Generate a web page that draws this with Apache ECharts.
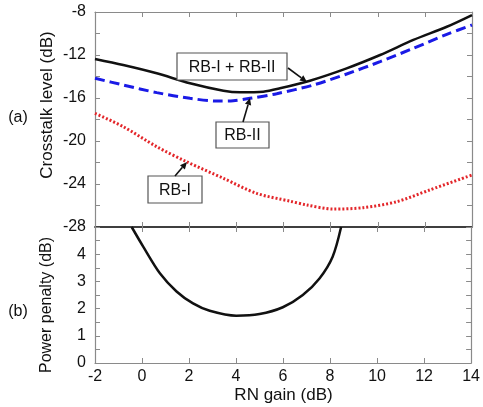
<!DOCTYPE html>
<html><head><meta charset="utf-8">
<script src="https://cdn.jsdelivr.net/npm/echarts@6/dist/echarts.min.js"></script>
<style>html,body{margin:0;padding:0;background:#fff}#c{width:483px;height:407px}</style>
</head><body><div id="c"></div>
<script>
// ---- data ----
const totalGain = [-2, -0.8, 0.62, 2.03, 3.45, 4.15, 5.14, 5.85, 7.12, 8.68, 10.1, 11.51, 12.93, 14];
const totalXT   = [-12.37, -12.93, -13.7, -14.63, -15.32, -15.47, -15.41, -15.1, -14.39, -13.24, -12.0, -10.6, -9.37, -8.28];
const rb2Gain   = [-2, -0.8, 0.62, 2.03, 3.16, 3.87, 4.58, 5.71, 7.27, 8.68, 10.1, 11.51, 12.93, 14];
const rb2XT     = [-14.17, -14.79, -15.5, -16.03, -16.28, -16.25, -16.03, -15.6, -14.79, -13.77, -12.62, -11.38, -10.08, -9.21];
const rb1Gain   = [-2, -0.8, 0.62, 1.89, 3.45, 4.86, 6.28, 6.98, 8.11, 9.39, 10.8, 12.2, 14];
const rb1XT     = [-17.43, -18.67, -20.53, -21.93, -23.47, -24.87, -25.6, -25.95, -26.33, -26.2, -25.65, -24.56, -23.16];
const ppGain    = [-0.44, 0.05, 0.76, 1.47, 2.17, 2.88, 4.01, 5.0, 5.99, 6.84, 7.55, 8.11, 8.47];
const ppVal     = [5.0, 4.28, 3.3, 2.63, 2.19, 1.92, 1.74, 1.8, 2.05, 2.5, 3.11, 3.91, 5.0];
const xTicks = [-2, 14, 2];
const topY = [-28, -8, 2];
const botY = [0, 5, 0.5];

const zip = (a, b) => a.map((v, i) => [v, b[i]]);
const FONT = '"Liberation Sans", Arial, sans-serif';
const AX = '#8a8a8a';

const L = 95, W = 377, T = 12, H1 = 215, H2 = 136;
function xAx(grid, pos, labels, dark) {
  return {
    type: 'value', gridIndex: grid, position: pos, min: xTicks[0], max: xTicks[1], interval: xTicks[2],
    axisLine: {show: true, onZero: false, lineStyle: {color: dark ? '#333' : AX, width: dark ? 1.5 : 1.2}},
    axisTick: {show: true, inside: true, length: 5, lineStyle: {color: AX}},
    axisLabel: {show: labels, color: '#111', fontSize: 16, fontFamily: FONT, margin: 6},
    splitLine: {show: false}
  };
}
function yAx(grid, pos, rng, labels, fmt) {
  return {
    type: 'value', gridIndex: grid, position: pos, min: rng[0], max: rng[1], interval: rng[2],
    axisLine: {show: true, onZero: false, lineStyle: {color: AX, width: 1.2}},
    axisTick: {show: true, inside: true, length: 5, lineStyle: {color: AX}},
    axisLabel: {show: labels, color: '#111', fontSize: 16, fontFamily: FONT, margin: 9, formatter: fmt,
      showMinLabel: true, showMaxLabel: true},
    splitLine: {show: false}
  };
}

const chart = echarts.init(document.getElementById('c'), null, {renderer: 'canvas'});

function arrow(x1, y1, x2, y2) {
  const a = Math.atan2(y2 - y1, x2 - x1), s = 7, w = 3.2;
  const bx = x2 - s * Math.cos(a), by = y2 - s * Math.sin(a);
  const px = -Math.sin(a) * w, py = Math.cos(a) * w;
  return [
    {type: 'line', shape: {x1, y1, x2: bx, y2: by}, style: {stroke: '#111', lineWidth: 1.6}, z: 100},
    {type: 'polygon', shape: {points: [[x2, y2], [bx + px, by + py], [bx - px, by - py]]}, style: {fill: '#111'}, z: 100}
  ];
}
function box(x, y, w, h, txt) {
  return [
    {type: 'rect', shape: {x, y, width: w, height: h}, style: {fill: '#fff', stroke: '#555', lineWidth: 1.2}, z: 100},
    {type: 'text', x: x + w / 2, y: y + h / 2 + 1, style: {text: txt, font: '16px ' + FONT, fill: '#111', align: 'center', verticalAlign: 'middle'}, z: 101}
  ];
}

chart.setOption({
  animation: false,
  backgroundColor: '#fff',
  grid: [
    {left: L, top: T, width: W, height: H1},
    {left: L, top: T + H1, width: W, height: H2}
  ],
  xAxis: [xAx(0, 'bottom', false, true), xAx(0, 'top', false), xAx(1, 'bottom', true), xAx(1, 'top', false, true)],
  yAxis: [
    yAx(0, 'left', topY, true, v => (Math.round(v) % 4 === 0 ? String(v) : '')),
    yAx(0, 'right', topY, false),
    yAx(1, 'left', botY, true, v => (Number.isInteger(v) && v < 5 ? String(v) : '')),
    yAx(1, 'right', botY, false)
  ],
  series: [
    {type: 'line', xAxisIndex: 0, yAxisIndex: 0, data: zip(rb1Gain, rb1XT), smooth: 0.3, symbol: 'none',
      lineStyle: {color: '#e3262a', width: 3, type: [2, 2]}},
    {type: 'line', xAxisIndex: 0, yAxisIndex: 0, data: zip(rb2Gain, rb2XT), smooth: 0.3, symbol: 'none',
      lineStyle: {color: '#1a1ae6', width: 3, type: [10, 5]}},
    {type: 'line', xAxisIndex: 0, yAxisIndex: 0, data: zip(totalGain, totalXT), smooth: 0.3, symbol: 'none',
      lineStyle: {color: '#111', width: 2.5}},
    {type: 'line', xAxisIndex: 2, yAxisIndex: 2, data: zip(ppGain, ppVal), smooth: 0.3, symbol: 'none',
      lineStyle: {color: '#111', width: 2.5}}
  ],
  graphic: [
    {type: 'text', x: 47, y: 105, rotation: Math.PI / 2, style: {text: 'Crosstalk level (dB)', font: '17px ' + FONT, fill: '#111', align: 'center', verticalAlign: 'middle'}},
    {type: 'text', x: 47, y: 305, rotation: Math.PI / 2, style: {text: 'Power penalty (dB)', font: '16px ' + FONT, fill: '#111', align: 'center', verticalAlign: 'middle'}},
    {type: 'text', x: 18, y: 118, style: {text: '(a)', font: '16px ' + FONT, fill: '#111', align: 'center', verticalAlign: 'middle'}},
    {type: 'text', x: 18, y: 312, style: {text: '(b)', font: '16px ' + FONT, fill: '#111', align: 'center', verticalAlign: 'middle'}},
    {type: 'text', x: L + W / 2, y: 395, style: {text: 'RN gain (dB)', font: '17px ' + FONT, fill: '#111', align: 'center', verticalAlign: 'middle'}},
    ...box(177, 53, 110, 27, 'RB-I + RB-II'),
    ...arrow(288, 68, 307, 82),
    ...box(216, 122, 53, 26, 'RB-II'),
    ...arrow(243, 122, 250, 98),
    ...box(148, 176, 54, 27, 'RB-I'),
    ...arrow(175, 176, 187, 162)
  ]
});
</script></body></html>
